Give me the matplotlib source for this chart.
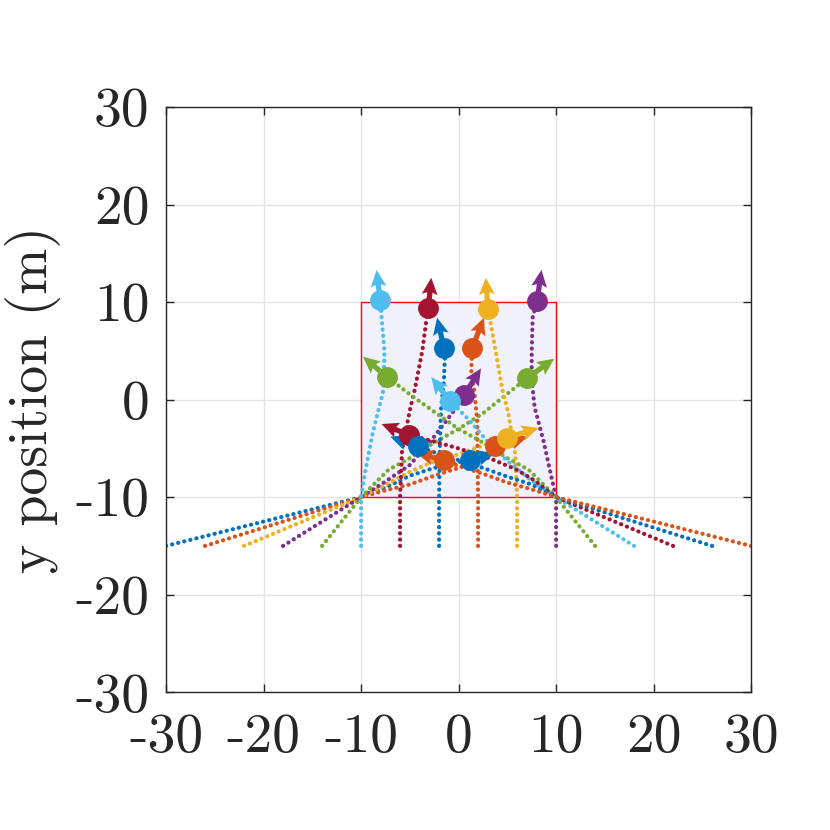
import numpy as np
import matplotlib
matplotlib.use('Agg')
import matplotlib.pyplot as plt
from matplotlib.patches import Rectangle

plt.rcParams['font.family'] = ['cmr10', 'DejaVu Serif']
plt.rcParams['axes.unicode_minus'] = False

# MATLAB default colour order
colors = ['#0072BD', '#D95319', '#EDB120', '#7E2F8E', '#77AC30', '#4DBEEE', '#A2142F']

# waypoints of each agent's path
traj_x = [
    [-30, -10, -7.5, -5, -2.5, 0, 1.2],
    [-26, -10, -7.5, -5, -2.5, 0, 2, 3.7],
    [-22, -10, -8, -6.5, -5, -2.7, 0, 2.5, 5],
    [-18, -10, -7.5, -5, -2.9, -1.5, 0, 0.6],
    [-14, -10, -7.2, -5, -2.5, 0, 2.5, 4.5, 7],
    [-10, -10, -9.6, -8.8, -7.7, -7.6, -7.9, -8.05],
    [-6, -6, -5.8, -5, -4.5, -3.7, -3.3, -3.1],
    [-2, -2, -1.9, -1.8, -1.5, -1.4, -1.5],
    [2, 2, 1.9, 1.6, 1.3, 1.4],
    [6, 6, 5.8, 5.1, 4.5, 3.9, 3.3, 3.0],
    [10, 10, 9.6, 8.7, 7.8, 7.5, 7.5, 7.6, 8.05],
    [14, 10, 7.2, 5, 2.5, 0, -2, -4.8, -7.3],
    [18, 10, 7.5, 5, 2.8, 1, -0.9],
    [22, 10, 7.8, 6, 3.4, 0, -2.5, -5.1],
    [26, 10, 7.5, 5, 2.5, 0, -2.2, -4.2],
    [30, 10, 7.5, 5, 2.5, 0, -1.5],
]
traj_y = [
    [-15, -10, -9, -7.8, -7, -6.4, -6.2],
    [-15, -10, -9.3, -8.7, -7.8, -7, -6, -4.8],
    [-15, -10, -9, -8.2, -7.4, -6.4, -5.6, -4.7, -3.9],
    [-15, -10, -8.4, -6.7, -4.3, -2.5, -0.5, 0.5],
    [-15, -10, -7.2, -6, -4.4, -3, -1.4, 0.2, 2.2],
    [-15, -10, -7.5, -3.4, 1, 5, 8.5, 10.2],
    [-15, -10, -5.2, -1.1, 1, 5.1, 8.2, 9.4],
    [-15, -10, -4, -1, 2, 4.4, 5.3],
    [-15, -10, -2, 1, 3, 5.3],
    [-15, -10, -5.5, -1.4, 1, 4.4, 7.8, 9.3],
    [-15, -10, -8.3, -4.2, -0.8, 2, 5, 8.5, 10.1],
    [-15, -10, -7.2, -6, -4.4, -3, -1.6, 0.4, 2.3],
    [-15, -10, -8.3, -6.3, -4.1, -2, -0.1],
    [-15, -10, -8.3, -7.2, -6.1, -5, -4.3, -3.6],
    [-15, -10, -8.7, -7.9, -7, -6.2, -5.5, -4.8],
    [-15, -10, -9.2, -8.5, -7.6, -6.8, -6.2],
]
# final heading of each agent
head_u = [2.5, 3.4, 3.2, 1.7, 2.8, -0.35, 0.3, -0.7, 1.2, -0.2, 0.45, -2.5, -1.9, -2.8, -2.8, -2.8]
head_v = [0.7, 1.0, 1.0, 2.7, 2.0, 3.1, 3.1, 3.1, 3.1, 3.2, 3.2, 2.1, 2.4, 1.1, 1.0, 0.7]

# target region
box_x = [-10, 10]
box_y = [-10, 10]

ticks = [-30, -20, -10, 0, 10, 20, 30]

fig = plt.figure(figsize=(8.3, 8.3), dpi=100)
ax = fig.add_axes([0.2, 0.166, 0.705, 0.705])

ax.add_patch(Rectangle((box_x[0], box_y[0]), box_x[1] - box_x[0], box_y[1] - box_y[0],
                       facecolor='#F1F1FB', edgecolor='#FF0000', linewidth=1.0, zorder=1))

for i in range(len(traj_x)):
    c = colors[i % len(colors)]
    ax.plot(traj_x[i], traj_y[i], color=c, linewidth=3.0,
            linestyle=(0, (0.05, 1.45)), dash_capstyle='round', zorder=2)

for i in range(len(traj_x)):
    c = colors[i % len(colors)]
    ex, ey = traj_x[i][-1], traj_y[i][-1]
    ax.quiver(ex, ey, head_u[i], head_v[i], color=c, angles='xy', scale_units='xy',
              scale=1, width=0.009, headwidth=3.0, headlength=3.2, headaxislength=2.8,
              zorder=3)
    ax.plot(ex, ey, 'o', color=c, markersize=14, zorder=4)

ax.set_xlim(-30, 30)
ax.set_ylim(-30, 30)
ax.set_xticks(ticks)
ax.set_yticks(ticks)
ax.set_xticklabels([str(t) for t in ticks])
ax.set_yticklabels([str(t) for t in ticks])
ax.grid(True, color='#E3E3E3', linewidth=1.0)
ax.set_axisbelow(True)
ax.tick_params(direction='in', length=6, width=1, colors='#262626', labelsize=40,
               top=True, right=True, pad=12)
ax.tick_params(axis='x', pad=15)
for s in ax.spines.values():
    s.set_color('#262626')
    s.set_linewidth(1.0)
ax.set_ylabel('y position (m)', fontsize=40, color='#262626', labelpad=10)

plt.savefig('out.png', dpi=100)
plt.close()
